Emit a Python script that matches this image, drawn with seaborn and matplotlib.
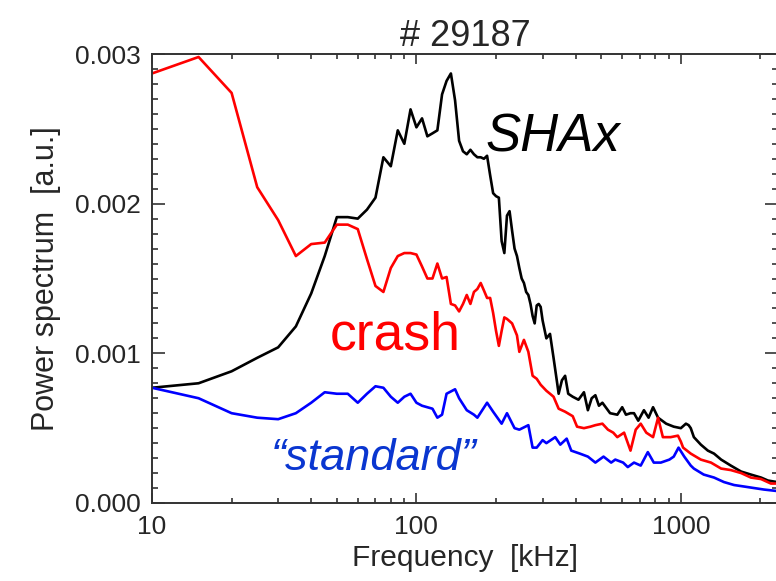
import numpy as np
import pandas as pd
import matplotlib
matplotlib.use("Agg")
import matplotlib.pyplot as plt
import seaborn as sns
from matplotlib.ticker import FixedLocator, FixedFormatter, LogLocator, NullFormatter, MultipleLocator, FormatStrFormatter

# ---------------- data ----------------
title_text = "# 29187"
xlabel_text = "Frequency  [kHz]"
ylabel_text = "Power spectrum  [a.u.]"
x_ticks = [10, 100, 1000]
x_tick_labels = ["10", "100", "1000"]
y_ticks = [0.000, 0.001, 0.002, 0.003]

shax_f = [10, 15, 20, 25, 30, 35, 40, 45, 50, 55, 60, 65, 70, 75, 80, 85, 90, 95, 100,
          105, 110, 115, 120, 125, 130, 135, 140, 145, 150, 155, 160, 165, 170, 175, 180,
          185, 190, 195, 200, 205, 210, 215, 220, 225, 230, 235, 240, 245, 250, 255, 260,
          265, 270, 275, 280, 285, 290, 295, 300, 310, 320, 330, 340, 345, 355, 365, 375,
          390, 410, 430, 445, 460, 475, 490, 505, 540, 575, 600, 620, 645, 665, 690, 725,
          755, 785, 820, 880, 940, 1000, 1045, 1070, 1090, 1120, 1190, 1265, 1335, 1420,
          1545, 1690, 1840, 2010, 2135, 2310]
shax_p = [0.00077, 0.00080, 0.00088, 0.00097, 0.00104, 0.00118, 0.00140, 0.00165, 0.00191,
          0.00191, 0.00190, 0.00196, 0.00204, 0.00231, 0.00225, 0.00249, 0.00240, 0.00263,
          0.00251, 0.00257, 0.00245, 0.00247, 0.00249, 0.00273, 0.00282, 0.00287, 0.00269,
          0.00242, 0.00235, 0.00233, 0.00236, 0.00233, 0.00231, 0.00231, 0.00230, 0.00232,
          0.00219, 0.00207, 0.00205, 0.00204, 0.00175, 0.00167, 0.00192, 0.00195, 0.00182,
          0.00170, 0.00165, 0.00157, 0.00150, 0.00147, 0.00141, 0.00139, 0.00133, 0.00125,
          0.00120, 0.00132, 0.00133, 0.00131, 0.00122, 0.00110, 0.00113, 0.00097, 0.00081,
          0.00073, 0.00082, 0.00085, 0.00073, 0.00071, 0.00069, 0.00074, 0.00062, 0.00070,
          0.00072, 0.00065, 0.00067, 0.00060, 0.00059, 0.00064, 0.00059, 0.00060, 0.00060,
          0.00055, 0.00062, 0.00057, 0.00064, 0.00057, 0.00053, 0.00051, 0.00050, 0.00053,
          0.00052, 0.00050, 0.00044, 0.00039, 0.00035, 0.00033, 0.00029, 0.00025, 0.00021,
          0.00019, 0.00017, 0.00015, 0.00014]

crash_f = [10, 15, 20, 25, 30, 35, 40, 45, 50, 55, 60, 65, 70, 75, 80, 85, 90, 95, 100,
           105, 110, 115, 120, 125, 130, 135, 140, 145, 150, 155, 160, 165, 170, 175, 180,
           185, 190, 195, 200, 205, 210, 215, 220, 230, 240, 245, 255, 265, 275, 285, 295,
           310, 320, 330, 345, 365, 390, 405, 430, 455, 475, 505, 530, 555, 575, 610, 645,
           675, 705, 740, 785, 820, 855, 915, 975, 1000, 1020, 1090, 1190, 1300, 1420, 1545,
           1690, 1840, 2010, 2190, 2310]
crash_p = [0.00287, 0.00298, 0.00274, 0.00211, 0.00189, 0.00165, 0.00173, 0.00174, 0.00186,
           0.00186, 0.00183, 0.00163, 0.00145, 0.00141, 0.00157, 0.00165, 0.00167, 0.00167,
           0.00166, 0.00158, 0.00150, 0.00150, 0.00160, 0.00150, 0.00151, 0.00133, 0.00132,
           0.00128, 0.00133, 0.00139, 0.00133, 0.00141, 0.00143, 0.00147, 0.00142, 0.00137,
           0.00137, 0.00127, 0.00115, 0.00105, 0.00115, 0.00124, 0.00123, 0.00120, 0.00112,
           0.00101, 0.00109, 0.00101, 0.00085, 0.00083, 0.00079, 0.00075, 0.00073, 0.00071,
           0.00063, 0.00061, 0.00058, 0.00051, 0.00050, 0.00051, 0.00052, 0.00053, 0.00049,
           0.00047, 0.00044, 0.00047, 0.00035, 0.00049, 0.00053, 0.00047, 0.00044, 0.00057,
           0.00044, 0.00044, 0.00045, 0.00041, 0.00037, 0.00033, 0.00029, 0.00027, 0.00023,
           0.00022, 0.00020, 0.00017, 0.00016, 0.00013, 0.00013]

std_f = [10, 15, 20, 25, 30, 35, 40, 45, 50, 55, 60, 65, 70, 75, 80, 85, 90, 95, 100, 105,
         115, 120, 125, 130, 140, 145, 155, 165, 170, 185, 195, 210, 220, 235, 245, 265, 275,
         285, 300, 310, 335, 350, 370, 385, 415, 445, 475, 510, 545, 565, 605, 630, 665, 705,
         750, 790, 840, 905, 940, 980, 1030, 1090, 1120, 1220, 1335, 1455, 1590, 1735, 1890,
         2060, 2310]
std_p = [0.00077, 0.00070, 0.00060, 0.00057, 0.00056, 0.00060, 0.00067, 0.00074, 0.00073,
         0.00073, 0.00067, 0.00073, 0.00078, 0.00077, 0.00071, 0.00067, 0.00071, 0.00073,
         0.00067, 0.00065, 0.00063, 0.00057, 0.00059, 0.00073, 0.00076, 0.00070, 0.00062,
         0.00059, 0.00057, 0.00067, 0.00061, 0.00053, 0.00060, 0.00050, 0.00049, 0.00052,
         0.00037, 0.00037, 0.00042, 0.00040, 0.00044, 0.00039, 0.00043, 0.00035, 0.00033,
         0.00031, 0.00027, 0.00031, 0.00027, 0.00029, 0.00027, 0.00024, 0.00027, 0.00025,
         0.00034, 0.00027, 0.00027, 0.00029, 0.00031, 0.00037, 0.00031, 0.00025, 0.00023,
         0.00019, 0.00017, 0.00014, 0.00012, 0.00011, 0.00010, 0.00009, 0.00008]

label_shax = "SHAx"
label_crash = "crash"
label_std = "\u201cstandard\u201d"

# ---------------- style ----------------
sns.set_style("ticks")
plt.rcParams["font.family"] = ["Liberation Sans", "DejaVu Sans"]

fig = plt.figure(figsize=(7.76, 5.81), dpi=100)
ax = fig.add_axes([152 / 776, 78 / 581, (778 - 152) / 776, (503 - 54) / 581])

df = pd.concat([
    pd.DataFrame({"f": shax_f, "p": shax_p, "s": "SHAx"}),
    pd.DataFrame({"f": crash_f, "p": crash_p, "s": "crash"}),
    pd.DataFrame({"f": std_f, "p": std_p, "s": "standard"}),
])
palette = {"SHAx": "black", "crash": "#ff0000", "standard": "#0000ff"}
sns.lineplot(data=df, x="f", y="p", hue="s", palette=palette, ax=ax,
             linewidth=1.9, legend=False, sort=False, estimator=None)

ax.set_xscale("log")
ax.set_xlim(10, 2330)
ax.set_ylim(0.0, 0.003)

ax.xaxis.set_major_locator(FixedLocator(x_ticks))
ax.xaxis.set_major_formatter(FixedFormatter(x_tick_labels))
ax.xaxis.set_minor_locator(LogLocator(base=10, subs=np.arange(2, 10)))
ax.xaxis.set_minor_formatter(NullFormatter())
ax.yaxis.set_major_locator(FixedLocator(y_ticks))
ax.yaxis.set_major_formatter(FormatStrFormatter("%.3f"))
ax.yaxis.set_minor_locator(MultipleLocator(0.0001))

ax.tick_params(axis="both", which="both", direction="in", top=True, right=True,
               color="#222222", width=1.1, labelsize=19)
ax.tick_params(axis="y", which="major", length=9.5, pad=8)
ax.tick_params(axis="y", which="minor", length=4.5)
ax.tick_params(axis="x", which="major", length=7.5, pad=9)
ax.tick_params(axis="x", which="minor", length=3.8)
for sp in ax.spines.values():
    sp.set_linewidth(1.4)
    sp.set_color("#333333")

ax.set_xlabel(xlabel_text, fontsize=21.5, labelpad=3)
ax.set_ylabel(ylabel_text, fontsize=22, labelpad=10)
ax.set_title(title_text, fontsize=26, pad=5)

ax.text(0.532, 0.782, label_shax, transform=ax.transAxes, fontsize=38,
        style="italic", color="black", ha="left", va="baseline")
ax.text(0.284, 0.341, label_crash, transform=ax.transAxes, fontsize=38.5,
        color="#ff0000", ha="left", va="baseline")
ax.text(0.190, 0.0735, label_std, transform=ax.transAxes, fontsize=32.5,
        style="italic", color="#0a36d0", ha="left", va="baseline")

fig.savefig("out.png", dpi=100)
